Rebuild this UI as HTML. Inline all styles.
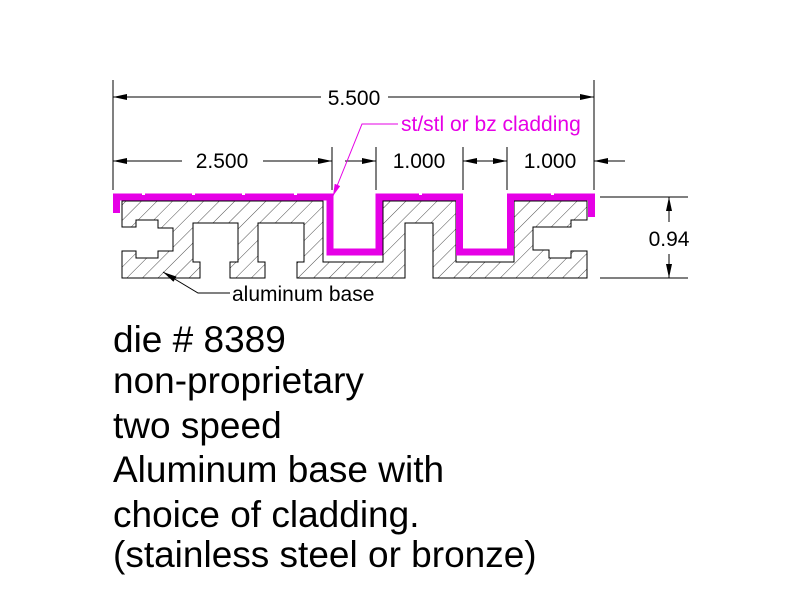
<!DOCTYPE html>
<html><head><meta charset="utf-8"><style>
html,body{margin:0;padding:0;background:#fff;}
svg{display:block;}
text{font-family:"Liberation Sans",Arial,sans-serif;}
</style></head><body>
<svg width="792" height="612" viewBox="0 0 792 612" xmlns="http://www.w3.org/2000/svg">
<defs>
<pattern id="h" patternUnits="userSpaceOnUse" width="11" height="11" patternTransform="rotate(45)">
<line x1="0" y1="0" x2="0" y2="11" stroke="#000" stroke-width="0.7"/>
</pattern>
<marker id="a" viewBox="0 0 14 6" refX="14" refY="3" markerWidth="14" markerHeight="6" markerUnits="userSpaceOnUse" orient="auto">
<path d="M0,0 L14,3 L0,6 z" fill="#000"/>
</marker>
<marker id="am" viewBox="0 0 12 6" refX="12" refY="3" markerWidth="12" markerHeight="6" markerUnits="userSpaceOnUse" orient="auto">
<path d="M0,0 L12,3 L0,6 z" fill="#e600e6"/>
</marker>
</defs>

<path d="M122,201 L323,201 L323,262 L383,262 L383,201 L456,201 L456,262 L514,262 L514,201 L587,201 L587,220 L571,220 L571,227 L549,227 L549,227 L533,227 L533,250 L549,250 L549,258 L571,258 L571,251 L587,251 L587,278 L433,278 L433,223 L405,223 L405,278 L297,278 L297,262 L304,262 L304,223 L258,223 L258,262 L265,262 L265,278 L230,278 L230,262 L238,262 L238,223 L193,223 L193,262 L200,262 L200,278 L122,278 L122,251 L136,251 L136,258 L158,258 L158,251 L173,251 L173,228 L158,228 L158,220 L136,220 L136,227 L122,227 Z" fill="url(#h)" stroke="#000" stroke-width="1"/>

<path d="M116.5,213 L116.5,197 L330,197 L330,252 L379,252 L379,197 L459.5,197 L459.5,252 L510.5,252 L510.5,197 L591.5,197 L591.5,217" fill="none" stroke="#e600e6" stroke-width="7" stroke-linejoin="miter"/>
<g fill="#fff"><rect x="142" y="193" width="3" height="2"/><rect x="192" y="193" width="3" height="2"/><rect x="242" y="193" width="3" height="2"/><rect x="294" y="193" width="3" height="2"/><rect x="419" y="193" width="3" height="2"/><rect x="551" y="193" width="3" height="2"/></g>

<g stroke="#000" stroke-width="1">
<line x1="113" y1="80" x2="113" y2="190"/>
<line x1="594" y1="80" x2="594" y2="190"/>
<line x1="332" y1="147" x2="332" y2="190"/>
<line x1="376" y1="147" x2="376" y2="190"/>
<line x1="463" y1="147" x2="463" y2="190"/>
<line x1="507" y1="147" x2="507" y2="190"/>
<line x1="600" y1="197" x2="688" y2="197"/>
<line x1="600" y1="278" x2="688" y2="278"/>
</g>
<g stroke="#000" stroke-width="1" fill="none">
<line x1="321" y1="97" x2="113" y2="97" marker-end="url(#a)"/>
<line x1="388" y1="97" x2="594" y2="97" marker-end="url(#a)"/>
<line x1="182" y1="161" x2="113" y2="161" marker-end="url(#a)"/>
<line x1="263" y1="161" x2="332" y2="161" marker-end="url(#a)"/>
<line x1="345" y1="161" x2="376" y2="161" marker-end="url(#a)"/>
<line x1="485" y1="161" x2="463" y2="161" marker-end="url(#a)"/>
<line x1="485" y1="161" x2="507" y2="161" marker-end="url(#a)"/>
<line x1="625" y1="161" x2="594" y2="161" marker-end="url(#a)"/>
<line x1="669" y1="222" x2="669" y2="197" marker-end="url(#a)"/>
<line x1="669" y1="254" x2="669" y2="278" marker-end="url(#a)"/>
<polyline points="230,293 198,293 163,272" marker-end="url(#a)"/>
</g>
<polyline points="398,124 362,124 333,196" fill="none" stroke="#e600e6" stroke-width="1" marker-end="url(#am)"/>

<g font-size="21" fill="#000" text-anchor="middle">
<text x="354" y="105">5.500</text>
<text x="222" y="168">2.500</text>
<text x="419" y="168">1.000</text>
<text x="550" y="168">1.000</text>
<text x="669" y="246">0.94</text>
</g>
<text x="401" y="131" font-size="21" fill="#e600e6">st/stl or bz cladding</text>
<text x="232" y="301" font-size="21" fill="#000">aluminum base</text>

<g font-size="37" fill="#000">
<text x="113" y="352">die # 8389</text>
<text x="113" y="393">non-proprietary</text>
<text x="113" y="438">two speed</text>
<text x="113" y="482">Aluminum base with</text>
<text x="113" y="527">choice of cladding.</text>
<text x="113" y="567">(stainless steel or bronze)</text>
</g>
</svg>
</body></html>
